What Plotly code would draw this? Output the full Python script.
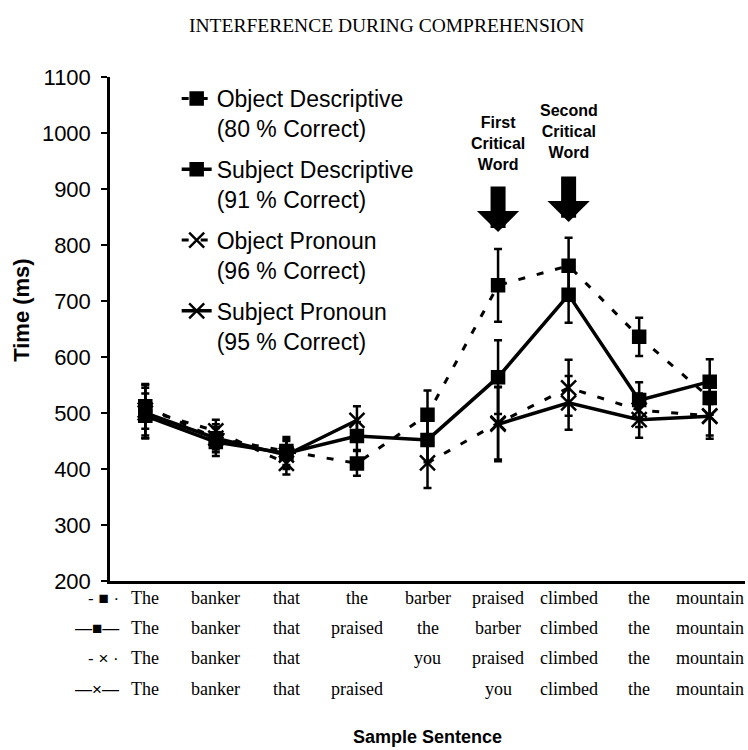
import plotly.graph_objects as go

# ---------------- data ----------------
positions = [1, 2, 3, 4, 5, 6, 7, 8, 9]

obj_desc = [512, 455, 432, 410, 497, 728, 763, 636, 527]
obj_desc_err = [40, 25, 25, 22, 43, 65, 50, 34, 30]

subj_desc = [495, 448, 428, 459, 452, 564, 711, 523, 556]
subj_desc_err = [40, 25, 25, 25, 40, 66, 50, 32, 40]

obj_pron = [505, 468, 410, None, 411, 482, 545, 505, 495]
obj_pron_err = [45, 20, 20, None, 45, 65, 50, 30, 35]

subj_pron = [500, 455, 425, 487, None, 480, 518, 488, 494]
subj_pron_err = [45, 20, 25, 25, None, 66, 48, 32, 40]

series_names = [
    "Object Descriptive<br>(80 % Correct)",
    "Subject Descriptive<br>(91 % Correct)",
    "Object Pronoun<br>(96 % Correct)",
    "Subject Pronoun<br>(95 % Correct)",
]

row_od = ["The", "banker", "that", "the", "barber", "praised", "climbed", "the", "mountain"]
row_sd = ["The", "banker", "that", "praised", "the", "barber", "climbed", "the", "mountain"]
row_op = ["The", "banker", "that", "", "you", "praised", "climbed", "the", "mountain"]
row_sp = ["The", "banker", "that", "praised", "", "you", "climbed", "the", "mountain"]
row_symbols = ["- \u25a0 \u00b7", "\u2014\u25a0\u2014", "- \u00d7 \u00b7", "\u2014\u00d7\u2014"]

y_ticks = [200, 300, 400, 500, 600, 700, 800, 900, 1000, 1100]

# ---------------- figure ----------------
SANS = "Liberation Sans, Arial, sans-serif"
SERIF = "Liberation Serif, Times New Roman, serif"

fig = go.Figure()

specs = [
    (obj_desc, obj_desc_err, "square", "7px,12px", 3),
    (subj_desc, subj_desc_err, "square", "solid", 3.5),
    (obj_pron, obj_pron_err, "x-thin-open", "7px,12px", 3),
    (subj_pron, subj_pron_err, "x-thin-open", "solid", 3.5),
]

for i, (vals, errs, sym, dash, lw) in enumerate(specs):
    fig.add_trace(go.Scatter(
        x=positions, y=vals,
        mode="lines+markers",
        name=series_names[i],
        legendgroup=f"g{i}",
        line=dict(color="black", width=lw, dash=dash),
        marker=dict(symbol=sym, size=12 if sym == "square" else 15,
                    color="black", line=dict(color="black", width=2.5)),
        error_y=dict(type="data", array=errs, visible=True,
                     color="black", thickness=2.5, width=4),
        connectgaps=False,
    ))

annotations = []

# header
annotations.append(dict(
    text="INTERFERENCE DURING COMPREHENSION", xref="paper", yref="paper",
    x=0.435, y=1.0, yanchor="middle", xanchor="center", yshift=52, showarrow=False,
    font=dict(family=SERIF, size=19.5, color="black"),
))

# y-axis title
annotations.append(dict(
    text="<b>Time (ms)</b>", xref="paper", yref="paper",
    x=-0.1386, y=0.538, xanchor="center", yanchor="middle",
    textangle=-90, showarrow=False,
    font=dict(family=SANS, size=22, color="black"),
))

# x-axis title
annotations.append(dict(
    text="<b>Sample Sentence</b>", xref="paper", yref="paper",
    x=0.5, y=0, yanchor="middle", yshift=-156, showarrow=False,
    font=dict(family=SANS, size=18, color="black"),
))

# critical word arrows
annotations.append(dict(
    x=6, y=823, xref="x", yref="y", text="", showarrow=True,
    ax=0, ay=-47, arrowhead=1, arrowsize=0.47, arrowwidth=15, arrowcolor="black",
))
annotations.append(dict(
    x=7, y=841, xref="x", yref="y", text="", showarrow=True,
    ax=0, ay=-47, arrowhead=1, arrowsize=0.47, arrowwidth=15, arrowcolor="black",
))
annotations.append(dict(
    x=6, y=982, xref="x", yref="y", text="<b>First<br>Critical<br>Word</b>",
    showarrow=False, font=dict(family=SANS, size=16, color="black"),
))
annotations.append(dict(
    x=7, y=1002, xref="x", yref="y", text="<b>Second<br>Critical<br>Word</b>",
    showarrow=False, font=dict(family=SANS, size=16, color="black"),
))

# sentence rows under the axis
rows = [row_od, row_sd, row_op, row_sp]
row_shifts = [-29, -59, -89, -120]
for r, words in enumerate(rows):
    for p, w in zip(positions, words):
        if w:
            annotations.append(dict(
                x=p, y=0, xref="x", yref="paper", yshift=row_shifts[r],
                text=w, showarrow=False,
                font=dict(family=SERIF, size=18, color="black"),
            ))
    annotations.append(dict(
        x=0.018, y=0, xref="paper", yref="paper", yshift=row_shifts[r],
        text=row_symbols[r], showarrow=False, xanchor="right",
        font=dict(family=SANS, size=17, color="black"),
    ))

fig.update_layout(
    width=748, height=750,
    margin=dict(l=110, r=3, t=77, b=169),
    paper_bgcolor="white", plot_bgcolor="white",
    showlegend=True,
    legend=dict(
        x=0.105, y=1.0, xanchor="left", yanchor="top",
        font=dict(family=SANS, size=23, color="black"),
        tracegroupgap=8, valign="top", bgcolor="rgba(0,0,0,0)",
        traceorder="grouped",
    ),
    annotations=annotations,
)

fig.update_xaxes(
    range=[0.5, 9.5], showgrid=False, zeroline=False,
    showticklabels=False, ticks="",
    showline=True, linecolor="black", linewidth=2.5,
)
fig.update_yaxes(
    range=[200, 1100], tickvals=y_ticks, showgrid=False, zeroline=False,
    ticks="outside", ticklen=6, tickwidth=2, tickcolor="black",
    showline=True, linecolor="black", linewidth=2.5,
    tickfont=dict(family=SANS, size=22, color="black"),
    ticklabelstandoff=6,
)

page_fix = (
    "document.body.style.margin='0';"
    "document.body.style.overflow='hidden';"
    "document.documentElement.style.overflow='hidden';"
)

fig.write_html("out.html", post_script=page_fix, config={"displayModeBar": False})
